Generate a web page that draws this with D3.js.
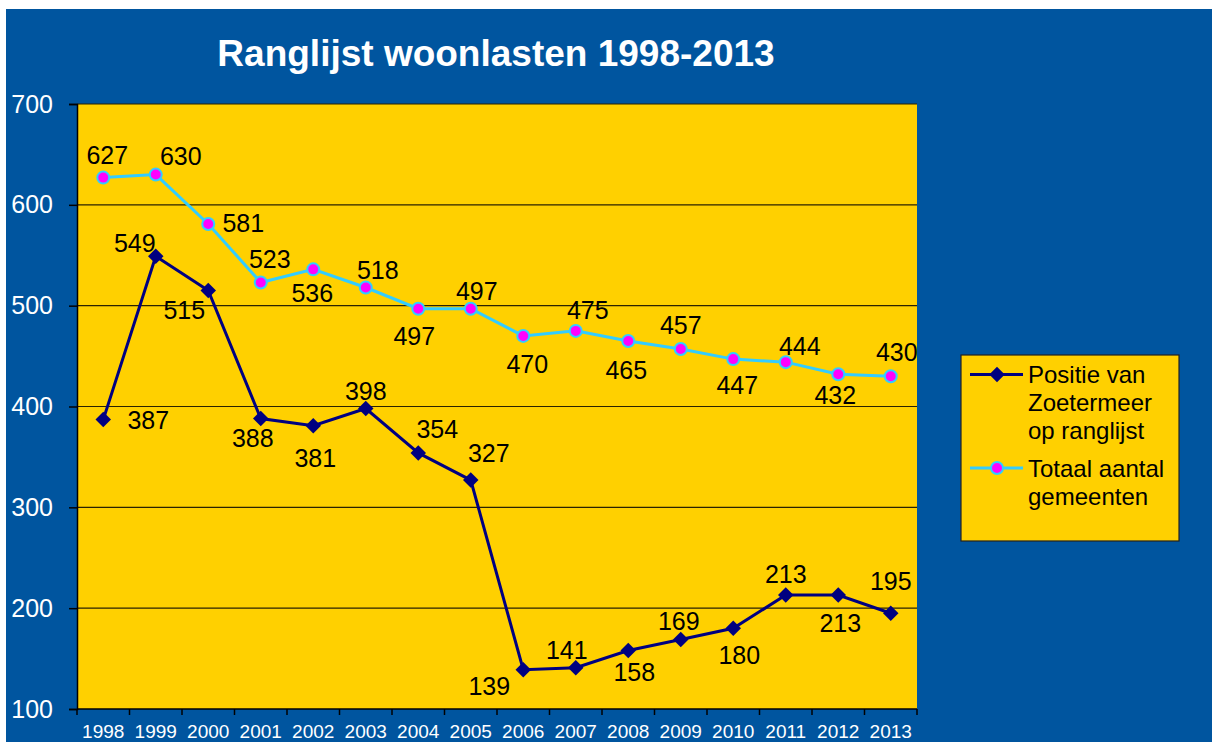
<!DOCTYPE html>
<html>
<head>
<meta charset="utf-8">
<script src="https://cdn.jsdelivr.net/npm/d3@7"></script>
<style>
  html, body { margin: 0; padding: 0; background: #ffffff; }
  svg { display: block; }
  text { font-family: "Liberation Sans", Arial, sans-serif; }
</style>
</head>
<body>
<svg id="chart" width="1212" height="742"></svg>
<script>
// Years on the x axis
const years = ["1998","1999","2000","2001","2002","2003","2004","2005",
               "2006","2007","2008","2009","2010","2011","2012","2013"];
// Position of Zoetermeer in the ranking
const positie = [387, 549, 515, 388, 381, 398, 354, 327, 139, 141, 158, 169, 180, 213, 213, 195];
// Total number of municipalities
const totaal = [627, 630, 581, 523, 536, 518, 497, 497, 470, 475, 465, 457, 447, 444, 432, 430];
// Y axis tick values
const yTicks = [100, 200, 300, 400, 500, 600, 700];
const seriesNames = [["Positie van", "Zoetermeer", "op ranglijst"], ["Totaal aantal", "gemeenten"]];

// Label offsets (dx, baseline dy) relative to each marker, in pixels
const totaalLabelOffsets = [[4,-14],[25,-10],[35,8],[9,-14],[-1,33],[12,-9],[-4,36],[6,-9],
                            [4,37],[12,-12],[-2,38],[0,-15],[4,35],[14,-7],[-3,30],[6,-15]];
const positieLabelOffsets = [[45,9],[-21,-4],[-24,28],[-8,28],[2,41],[0,-9],[19,-15],[18,-18],
                             [-34,25],[-9,-9],[6,30],[-2,-9],[6,36],[0,-12],[2,37],[0,-23]];

const svg = d3.select("#chart");
const W = 1212, H = 742;
const plot = { left: 77, right: 917, top: 104, bottom: 709 };

const COLORS = {
  bg: "#00559F",
  plot: "#FFD000",
  navy: "#000080",
  cyan: "#33CCFF",
  magenta: "#FF00FF",
  grid: "#2a2200"
};

// Background panel
svg.append("rect").attr("x", 6).attr("y", 9).attr("width", W - 6).attr("height", H - 9)
  .attr("fill", COLORS.bg);

// Title
svg.append("text")
  .attr("x", 496).attr("y", 66)
  .attr("text-anchor", "middle")
  .attr("fill", "#ffffff")
  .attr("font-size", 37).attr("font-weight", "bold")
  .text("Ranglijst woonlasten 1998-2013");

const x = d3.scaleBand().domain(years).range([plot.left, plot.right]).paddingInner(0).paddingOuter(0);
const y = d3.scaleLinear().domain([100, 700]).range([plot.bottom, plot.top]);

// Plot area
svg.append("rect")
  .attr("x", plot.left).attr("y", plot.top)
  .attr("width", plot.right - plot.left).attr("height", plot.bottom - plot.top)
  .attr("fill", COLORS.plot);

// Horizontal gridlines
svg.append("g").selectAll("line").data(yTicks.filter(d => d > 100)).join("line")
  .attr("x1", plot.left).attr("x2", plot.right)
  .attr("y1", d => y(d)).attr("y2", d => y(d))
  .attr("stroke", COLORS.grid).attr("stroke-width", 1.2);

// Y axis
const yAxis = svg.append("g")
  .attr("transform", `translate(${plot.left},0)`)
  .call(d3.axisLeft(y).tickValues(yTicks).tickSize(8).tickPadding(16).tickFormat(d3.format("d")));
yAxis.select(".domain").attr("stroke", "#000").attr("stroke-width", 1.5);
yAxis.selectAll(".tick line").attr("stroke", "#000").attr("stroke-width", 1.5);
yAxis.selectAll(".tick text").attr("fill", "#ffffff").attr("font-size", 25)
  .attr("font-family", "Liberation Sans, Arial, sans-serif");

// X axis: ticks at category boundaries, labels at band centres
const xAxisG = svg.append("g").attr("transform", `translate(0,${plot.bottom})`);
xAxisG.append("line").attr("x1", plot.left).attr("x2", plot.right).attr("y1", 0).attr("y2", 0)
  .attr("stroke", "#000").attr("stroke-width", 1.5);
const boundaries = years.map(d => x(d)).concat([x(years[years.length - 1]) + x.bandwidth()]);
xAxisG.selectAll("line.tick").data(boundaries).join("line").attr("class", "tick")
  .attr("x1", d => d).attr("x2", d => d).attr("y1", 0).attr("y2", 6)
  .attr("stroke", "#000").attr("stroke-width", 1.5);
xAxisG.selectAll("text").data(years).join("text")
  .attr("x", d => x(d) + x.bandwidth() / 2).attr("y", 29)
  .attr("text-anchor", "middle").attr("fill", "#ffffff").attr("font-size", 19)
  .text(d => d);

const cx = (d, i) => x(years[i]) + x.bandwidth() / 2;
const line = d3.line().x((d, i) => cx(d, i)).y(d => y(d));

// Totaal aantal gemeenten
svg.append("path").datum(totaal).attr("d", line)
  .attr("fill", "none").attr("stroke", COLORS.cyan).attr("stroke-width", 3);
svg.append("g").selectAll("circle").data(totaal).join("circle")
  .attr("cx", cx).attr("cy", d => y(d)).attr("r", 6)
  .attr("fill", COLORS.magenta).attr("stroke", COLORS.cyan).attr("stroke-width", 2);

// Positie van Zoetermeer
svg.append("path").datum(positie).attr("d", line)
  .attr("fill", "none").attr("stroke", COLORS.navy).attr("stroke-width", 3);
const diamond = d3.symbol().type(d3.symbolSquare).size(120);
svg.append("g").selectAll("path").data(positie).join("path")
  .attr("d", diamond)
  .attr("transform", (d, i) => `translate(${cx(d, i)},${y(d)}) rotate(45)`)
  .attr("fill", COLORS.navy);

// Value labels
function drawLabels(values, offsets) {
  svg.append("g").selectAll("text").data(values).join("text")
    .attr("x", (d, i) => cx(d, i) + offsets[i][0])
    .attr("y", (d, i) => y(d) + offsets[i][1])
    .attr("text-anchor", "middle").attr("fill", "#000").attr("font-size", 25)
    .text(d => d);
}
drawLabels(totaal, totaalLabelOffsets);
drawLabels(positie, positieLabelOffsets);

// Legend
const legend = svg.append("g");
legend.append("rect").attr("x", 961).attr("y", 355).attr("width", 218).attr("height", 186)
  .attr("fill", COLORS.plot).attr("stroke", "#222").attr("stroke-width", 1.2);

// Positie entry
legend.append("line").attr("x1", 970).attr("x2", 1023).attr("y1", 374.5).attr("y2", 374.5)
  .attr("stroke", COLORS.navy).attr("stroke-width", 3);
legend.append("path").attr("d", diamond)
  .attr("transform", "translate(997,374.5) rotate(45)").attr("fill", COLORS.navy);
legend.append("text").attr("x", 1028).attr("y", 382.5).attr("font-size", 24).attr("fill", "#000")
  .selectAll("tspan").data(seriesNames[0]).join("tspan")
  .attr("x", 1028).attr("dy", (d, i) => i === 0 ? 0 : 28).text(d => d);

// Totaal entry
legend.append("line").attr("x1", 970).attr("x2", 1023).attr("y1", 468).attr("y2", 468)
  .attr("stroke", COLORS.cyan).attr("stroke-width", 3);
legend.append("circle").attr("cx", 997).attr("cy", 468).attr("r", 6)
  .attr("fill", COLORS.magenta).attr("stroke", COLORS.cyan).attr("stroke-width", 2);
legend.append("text").attr("x", 1028).attr("y", 476.5).attr("font-size", 24).attr("fill", "#000")
  .selectAll("tspan").data(seriesNames[1]).join("tspan")
  .attr("x", 1028).attr("dy", (d, i) => i === 0 ? 0 : 28).text(d => d);
</script>
</body>
</html>
